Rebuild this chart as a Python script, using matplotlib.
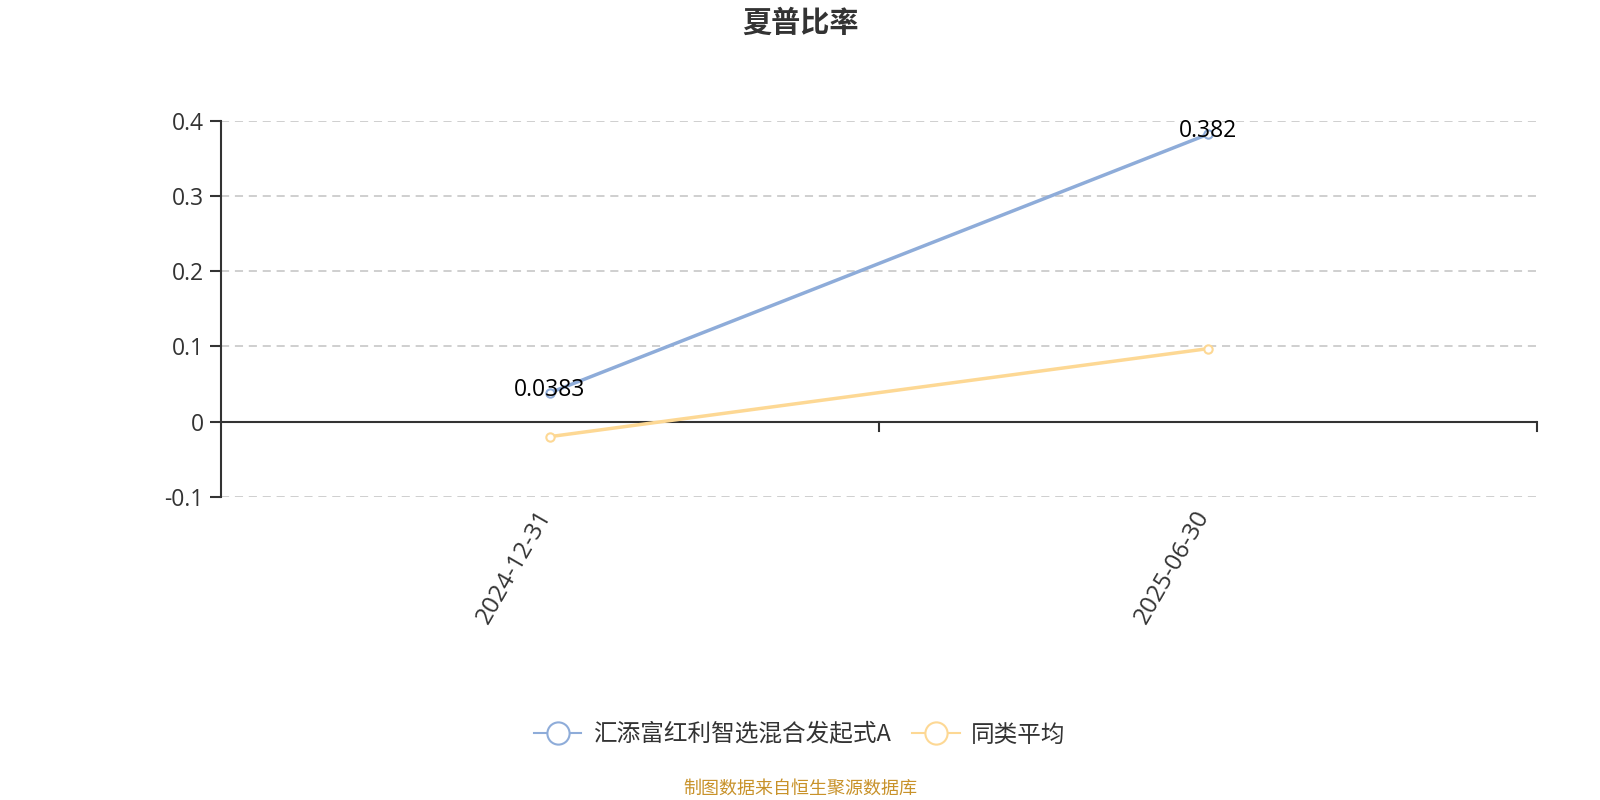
import matplotlib
matplotlib.use("Agg")
import matplotlib.pyplot as plt
import matplotlib.transforms as mtransforms
from matplotlib.lines import Line2D

plt.rcParams["font.family"] = ["Open Sans", "Noto Sans CJK SC", "DejaVu Sans"]
plt.rcParams["axes.unicode_minus"] = False

# data
dates = ["2024-12-31", "2025-06-30"]
fund_name = "汇添富红利智选混合发起式A"
fund_values = [0.0383, 0.382]
fund_labels = ["0.0383", "0.382"]
avg_name = "同类平均"
avg_values = [-0.02, 0.097]
y_ticks = [-0.1, 0, 0.1, 0.2, 0.3, 0.4]
y_tick_labels = ["-0.1", "0", "0.1", "0.2", "0.3", "0.4"]

blue = "#8eacd9"
yellow = "#fdd894"
dark = "#333333"
cjk = ["Noto Sans CJK SC", "DejaVu Sans"]

fig = plt.figure(figsize=(16, 8), dpi=100)
ax = fig.add_axes([0.138, 0.379, 0.8225, 0.470])

x = [0.5, 1.5]
ax.plot(x, fund_values, color=blue, lw=2.5, marker="o", ms=6,
        mfc="white", mec=blue, mew=1.5, zorder=4, clip_on=False)
ax.plot(x, avg_values, color=yellow, lw=2.5, marker="o", ms=6,
        mfc="white", mec=yellow, mew=1.5, zorder=3, clip_on=False)

for xi, v, lab in zip(x, fund_values, fund_labels):
    ax.text(xi, v + 0.004, lab, ha="center", va="center", fontsize=16.5,
            color="black", zorder=5)

ax.set_xlim(0, 2)
ax.set_ylim(-0.1, 0.4)
ax.set_yticks(y_ticks)
ax.set_yticklabels(y_tick_labels, fontsize=16.5, color=dark)
ax.tick_params(axis="y", length=7.7, width=1.5, color=dark, pad=4.5)

ax.set_xticks(x)
ax.set_xticklabels(dates, rotation=60, ha="right", va="center",
                   rotation_mode="anchor", fontsize=17.5, color=dark)
ax.tick_params(axis="x", length=0, pad=11)
shift = mtransforms.ScaledTranslation(-0.04, 0, fig.dpi_scale_trans)
for lbl in ax.get_xticklabels():
    lbl.set_transform(lbl.get_transform() + shift)

# boundary ticks of the category axis, hanging below the zero line
for xb in [1, 2]:
    ax.plot([xb, xb], [0, -0.013], color=dark, lw=1.5, clip_on=False, zorder=5)

for yv in y_ticks:
    if yv != 0:
        ax.axhline(yv, color="#cccccc", lw=1.3, ls=(0, (4.5, 3.2)), zorder=1)
ax.axhline(0, color=dark, lw=1.5, zorder=2)

for s in ["top", "right", "bottom"]:
    ax.spines[s].set_visible(False)
ax.spines["left"].set_color(dark)
ax.spines["left"].set_linewidth(1.5)

fig.text(0.5, 0.972, "夏普比率", ha="center", va="center", fontsize=21,
         fontweight="bold", color=dark, family=cjk)

handles = [
    Line2D([0], [0], color=blue, lw=1.5, marker="o", ms=16, mfc="white",
           mec=blue, mew=1.5),
    Line2D([0], [0], color=yellow, lw=1.5, marker="o", ms=16, mfc="white",
           mec=yellow, mew=1.5),
]
fig.legend(handles, [fund_name, avg_name], loc="center",
           bbox_to_anchor=(0.5, 1 - 735 / 800), ncol=2, frameon=False,
           prop={"family": cjk, "size": 17}, labelcolor=dark,
           handlelength=2.0, handletextpad=0.5, columnspacing=0.9)

fig.text(0.5, 1 - 789 / 800, "制图数据来自恒生聚源数据库", ha="center",
         va="center", fontsize=13, color="#c8922a", family=cjk)

fig.savefig("out.png", dpi=100, facecolor="white")
